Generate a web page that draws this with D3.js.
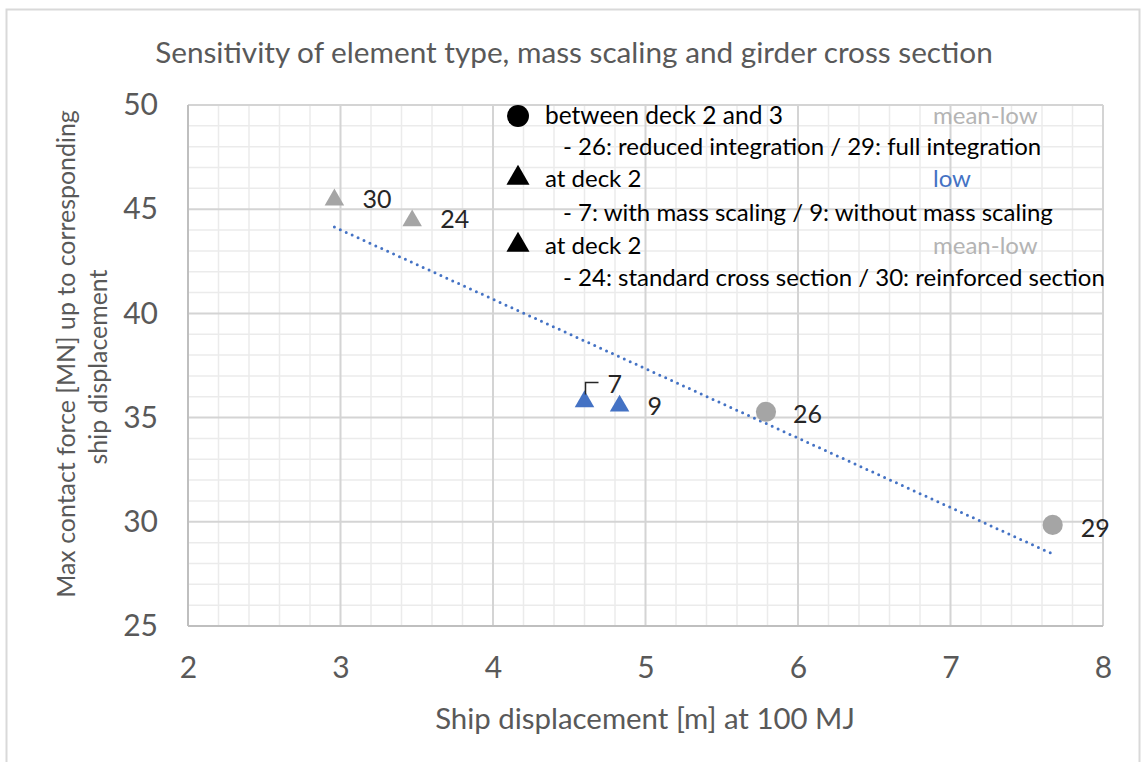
<!DOCTYPE html>
<html><head><meta charset="utf-8">
<script src="https://cdn.jsdelivr.net/npm/d3@7"></script>
<style>body{margin:0;background:#fff} text{font-family:Lato,'Open Sans',sans-serif}</style>
</head><body><svg id="c" width="1141" height="762"></svg>
<script>
// ---- data ----
const pointIds = ["30", "24", "7", "9", "26", "29"];
const xValues = [2.96, 3.47, 4.60, 4.83, 5.79, 7.67];
const yValues = [45.45, 44.45, 35.77, 35.56, 35.28, 29.85];
const shapes = ["triangle", "triangle", "triangle", "triangle", "circle", "circle"];
const groups = ["mean-low", "mean-low", "low", "low", "mean-low", "mean-low"];
const xTicks = [2, 3, 4, 5, 6, 7, 8];
const yTicks = [25, 30, 35, 40, 45, 50];
const legendMain = ["between deck 2 and 3", "at deck 2", "at deck 2"];
const legendShapes = ["circle", "triangle", "triangle"];
const legendDetail = ["- 26: reduced integration / 29: full integration",
  "- 7: with mass scaling / 9: without mass scaling",
  "- 24: standard cross section / 30: reinforced section"];
const legendGroup = ["mean-low", "low", "mean-low"];
const title = "Sensitivity of element type, mass scaling and girder cross section";
const xTitle = "Ship displacement [m] at 100 MJ";
const yTitle = ["Max contact force [MN] up to corresponding", "ship displacement"];

// ---- layout ----
const colors = {"mean-low": "#A5A5A5", "low": "#4472C4"};
const legendColors = {"mean-low": "#B4B4B4", "low": "#4472C4"};
const labelOffsets = {"30": [28, -2], "24": [28, -3], "7": [23, -19], "9": [28, -1], "26": [27, 1], "29": [28, 2]};
const svg = d3.select("#c");
const x = d3.scaleLinear().domain([2, 8]).range([188, 1103]);
const y = d3.scaleLinear().domain([25, 50]).range([626, 105]);
const textCol = "#595959";

function fit(sel, w) {
  const L = sel.node().getComputedTextLength();
  const fs = parseFloat(sel.attr("font-size"));
  sel.attr("font-size", fs * w / L);
  return fs * w / L;
}

// outer frame
svg.append("rect").attr("x", 6.5).attr("y", 9.5).attr("width", 1133).attr("height", 770)
  .attr("fill", "#fff").attr("stroke", "#D9D9D9").attr("stroke-width", 2);

// grid
const g = svg.append("g");
const minorX = d3.range(2, 8.001, 0.2).filter(v => Math.abs(v - Math.round(v)) > 1e-6);
const minorY = d3.range(25, 50.001, 1).filter(v => v % 5 !== 0);
g.selectAll(".mx").data(minorX).join("line").attr("x1", d => x(d)).attr("x2", d => x(d))
  .attr("y1", y(25)).attr("y2", y(50)).attr("stroke", "#EBEBEB").attr("stroke-width", 1.5);
g.selectAll(".my").data(minorY).join("line").attr("y1", d => y(d)).attr("y2", d => y(d))
  .attr("x1", x(2)).attr("x2", x(8)).attr("stroke", "#EBEBEB").attr("stroke-width", 1.5);
g.selectAll(".Mx").data(xTicks).join("line").attr("x1", d => x(d)).attr("x2", d => x(d))
  .attr("y1", y(25)).attr("y2", y(50)).attr("stroke", "#D4D4D4").attr("stroke-width", 2);
g.selectAll(".My").data(yTicks).join("line").attr("y1", d => y(d)).attr("y2", d => y(d))
  .attr("x1", x(2)).attr("x2", x(8)).attr("stroke", "#D4D4D4").attr("stroke-width", 2);
// axis lines
g.append("line").attr("x1", x(2)).attr("x2", x(2)).attr("y1", y(25)).attr("y2", y(50)).attr("stroke", "#BFBFBF").attr("stroke-width", 2);
g.append("line").attr("x1", x(2)).attr("x2", x(8)).attr("y1", y(25)).attr("y2", y(25)).attr("stroke", "#BFBFBF").attr("stroke-width", 2);

// axes tick labels via d3 axes
const xAxis = svg.append("g").attr("transform", `translate(0,${y(25)})`)
  .call(d3.axisBottom(x).tickValues(xTicks).tickSize(0).tickPadding(30).tickFormat(d3.format("d")));
const yAxis = svg.append("g").attr("transform", `translate(${x(2)},0)`)
  .call(d3.axisLeft(y).tickValues(yTicks).tickSize(0).tickPadding(30).tickFormat(d3.format("d")));
[xAxis, yAxis].forEach(a => {
  a.select(".domain").remove();
  a.selectAll("text").attr("font-size", 30).attr("fill", textCol).attr("font-family", "Lato,'Open Sans',sans-serif");
});
xAxis.selectAll("text").attr("dy", "0.35em").attr("y", 41);

// title
const t = svg.append("text").attr("x", 574).attr("y", 51).attr("text-anchor", "middle")
  .attr("dominant-baseline", "central").attr("font-size", 26).attr("fill", textCol).text(title);
fit(t, 838);
const xt = svg.append("text").attr("x", 645).attr("y", 717).attr("text-anchor", "middle")
  .attr("dominant-baseline", "central").attr("font-size", 24).attr("fill", textCol).text(xTitle);
fit(xt, 420);
const yt1 = svg.append("text").attr("transform", "translate(65,354) rotate(-90)").attr("text-anchor", "middle")
  .attr("dominant-baseline", "central").attr("font-size", 24).attr("fill", textCol).text(yTitle[0]);
const yfs = fit(yt1, 488);
svg.append("text").attr("transform", "translate(97,367) rotate(-90)").attr("text-anchor", "middle")
  .attr("dominant-baseline", "central").attr("font-size", yfs).attr("fill", textCol).text(yTitle[1]);

// trendline (least squares over all points)
const mx = d3.mean(xValues), my = d3.mean(yValues);
const slope = d3.sum(xValues, (v, i) => (v - mx) * (yValues[i] - my)) / d3.sum(xValues, v => (v - mx) ** 2);
const icpt = my - slope * mx;
const [x0, x1] = d3.extent(xValues);
svg.append("line").attr("x1", x(x0)).attr("y1", y(icpt + slope * x0)).attr("x2", x(x1)).attr("y2", y(icpt + slope * x1))
  .attr("stroke", "#4472C4").attr("stroke-width", 3).attr("stroke-dasharray", "0 6.5").attr("stroke-linecap", "round");

// points
const pts = pointIds.map((id, i) => ({id, x: xValues[i], y: yValues[i], shape: shapes[i], group: groups[i]}));
const sym = s => d3.symbol().type(s === "circle" ? d3.symbolCircle : d3.symbolTriangle).size(s === "circle" ? 320 : 165)();
svg.selectAll(".pt").data(pts).join("path")
  .attr("transform", d => `translate(${x(d.x)},${y(d.y)})`)
  .attr("d", d => sym(d.shape)).attr("fill", d => colors[d.group]);

// labels
svg.selectAll(".lbl").data(pts).join("text")
  .attr("x", d => x(d.x) + labelOffsets[d.id][0]).attr("y", d => y(d.y) + labelOffsets[d.id][1])
  .attr("dominant-baseline", "central").attr("font-size", 25).attr("fill", "#262626").text(d => d.id);
// leader line for label 7
const p7 = pts.find(d => d.id === "7");
svg.append("path").attr("d", `M${x(p7.x) + 1},${y(p7.y) - 7}V${y(p7.y) - 19}H${x(p7.x) + 14}`)
  .attr("fill", "none").attr("stroke", "#262626").attr("stroke-width", 1.5);

// legend
const rowY = [114, 145, 177, 211, 244, 276];
legendMain.forEach((txt, i) => {
  const cy = rowY[i * 2];
  svg.append("path").attr("transform", `translate(518,${cy + (legendShapes[i] === "triangle" ? 1 : 2)})`)
    .attr("d", d3.symbol().type(legendShapes[i] === "circle" ? d3.symbolCircle : d3.symbolTriangle).size(legendShapes[i] === "circle" ? 380 : 230)())
    .attr("fill", "#000");
  const m = svg.append("text").attr("x", 545).attr("y", cy).attr("dominant-baseline", "central")
    .attr("font-size", 24).attr("fill", "#000").text(txt);
  if (i === 0) fit(m, 238);
  svg.append("text").attr("x", 933).attr("y", cy).attr("dominant-baseline", "central")
    .attr("font-size", 24).attr("fill", legendColors[legendGroup[i]]).text(legendGroup[i]);
  svg.append("text").attr("x", 563).attr("y", rowY[i * 2 + 1]).attr("dominant-baseline", "central")
    .attr("font-size", 24).attr("fill", "#000").text(legendDetail[i]);
});
</script></body></html>
